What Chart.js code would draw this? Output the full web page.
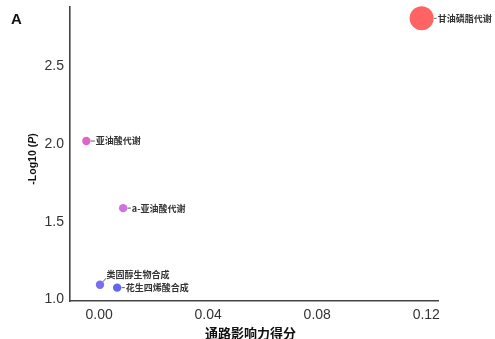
<!DOCTYPE html>
<html>
<head>
<meta charset="utf-8">
<script src="https://cdn.jsdelivr.net/npm/chart.js@4.4.1/dist/chart.umd.min.js"></script>
<style>
  html, body { margin: 0; padding: 0; background: #ffffff; }
  #wrap { width: 495px; height: 339px; }
</style>
</head>
<body>
<div id="wrap"><canvas id="c" width="495" height="339"></canvas></div>
<script>
// Pathway enrichment: impact score vs -log10(P)
const pathways = ['甘油磷脂代谢', '亚油酸代谢', 'a-亚油酸代谢', '类固醇生物合成', '花生四烯酸合成'];
const impactScore = [0.1183, -0.0047, 0.0088, 0.0003, 0.0066];
const negLog10P = [2.81, 2.02, 1.588, 1.095, 1.076];
const xTickValues = [0, 0.04, 0.08, 0.12];
const yTickValues = [1.0, 1.5, 2.0, 2.5];

// Marker styling
const pointColors = ['#FF6464', '#E066C6', '#D070E2', '#7C6CF0', '#6464F0'];
const pointRadii = [12, 4.2, 4.2, 4.2, 4.2];

// Label placement relative to each marker centre (px): text anchor + leader line
const labelPlacement = [
  { dx: 16,  dy: 0,   line: [[12.5, 0], [15, 0]] },
  { dx: 9.5, dy: 0,   line: [[4.5, 0], [8.5, 0]] },
  { dx: 8.7, dy: 0,   line: [[4.5, 0], [7.7, 0]] },
  { dx: 6.5, dy: -10, line: [[3, -3], [6, -6.5]] },
  { dx: 8.7, dy: 0,   line: [[4.5, 0], [7.7, 0]] }
];

const tickFont = { family: '"Liberation Sans", Arial, sans-serif', size: 14 };

const annotations = {
  id: 'annotations',
  afterDatasetsDraw(chart) {
    const ctx = chart.ctx;
    const meta = chart.getDatasetMeta(0);
    ctx.save();
    ctx.font = 'bold 9px "Noto Sans CJK SC", sans-serif';
    ctx.textAlign = 'left';
    ctx.textBaseline = 'middle';
    ctx.strokeStyle = '#333';
    ctx.lineWidth = 0.8;
    ctx.fillStyle = '#333';
    meta.data.forEach((el, i) => {
      const p = labelPlacement[i];
      const [a, b] = p.line;
      ctx.beginPath();
      ctx.moveTo(el.x + a[0], el.y + a[1]);
      ctx.lineTo(el.x + b[0], el.y + b[1]);
      ctx.stroke();
      ctx.fillText(pathways[i], el.x + p.dx, el.y + p.dy);
    });
    ctx.restore();
  },
  afterDraw(chart) {
    const ctx = chart.ctx;
    ctx.save();
    ctx.fillStyle = '#111';

    // panel letter
    ctx.font = 'bold 15px "Liberation Sans", Arial, sans-serif';
    ctx.textAlign = 'left';
    ctx.textBaseline = 'alphabetic';
    ctx.fillText('A', 11, 24);

    // x axis title
    ctx.font = 'bold 13px "Noto Sans CJK SC", sans-serif';
    ctx.textAlign = 'center';
    ctx.textBaseline = 'middle';
    ctx.fillText('通路影响力得分', 250.5, 333);

    // y axis title with italic P
    const parts = [
      ['-Log10 (', 'bold 10.5px "Liberation Sans", Arial, sans-serif'],
      ['P', 'italic bold 10.5px "Liberation Sans", Arial, sans-serif'],
      [')', 'bold 10.5px "Liberation Sans", Arial, sans-serif']
    ];
    let total = 0;
    parts.forEach(([t, f]) => { ctx.font = f; total += ctx.measureText(t).width; });
    ctx.translate(33.5, 159);
    ctx.rotate(-Math.PI / 2);
    ctx.textAlign = 'left';
    let x = -total / 2;
    parts.forEach(([t, f]) => {
      ctx.font = f;
      ctx.fillText(t, x, 0);
      x += ctx.measureText(t).width;
    });
    ctx.restore();
  }
};

new Chart(document.getElementById('c'), {
  type: 'bubble',
  data: {
    datasets: [{
      data: impactScore.map((v, i) => ({ x: v, y: negLog10P[i], r: pointRadii[i] })),
      backgroundColor: pointColors,
      borderWidth: 0,
      clip: false
    }]
  },
  options: {
    responsive: false,
    devicePixelRatio: 1,
    animation: false,
    layout: { autoPadding: false, padding: { top: 7, right: 57, left: 0, bottom: 0 } },
    plugins: { legend: { display: false }, tooltip: { enabled: false } },
    scales: {
      x: {
        type: 'linear',
        min: -0.0107,
        max: 0.1243,
        afterBuildTicks(scale) { scale.ticks = xTickValues.map(v => ({ value: v })); },
        afterFit(scale) { scale.height = 38; scale.paddingLeft = 0; scale.paddingRight = 0; },
        grid: { display: false, drawTicks: false },
        border: { display: true, color: '#444', width: 1.6 },
        ticks: {
          font: tickFont,
          color: '#333',
          padding: 6,
          maxRotation: 0,
          callback: v => Number(v).toFixed(2)
        }
      },
      y: {
        type: 'linear',
        min: 0.99,
        max: 2.883,
        afterBuildTicks(scale) { scale.ticks = yTickValues.map(v => ({ value: v })); },
        afterFit(scale) { scale.width = 70; scale.paddingTop = 0; scale.paddingBottom = 0; },
        grid: { display: false, drawTicks: false },
        border: { display: true, color: '#444', width: 1.6 },
        ticks: {
          font: tickFont,
          color: '#333',
          padding: 6,
          callback: v => Number(v).toFixed(1)
        }
      }
    }
  },
  plugins: [annotations]
});
</script>
</body>
</html>
